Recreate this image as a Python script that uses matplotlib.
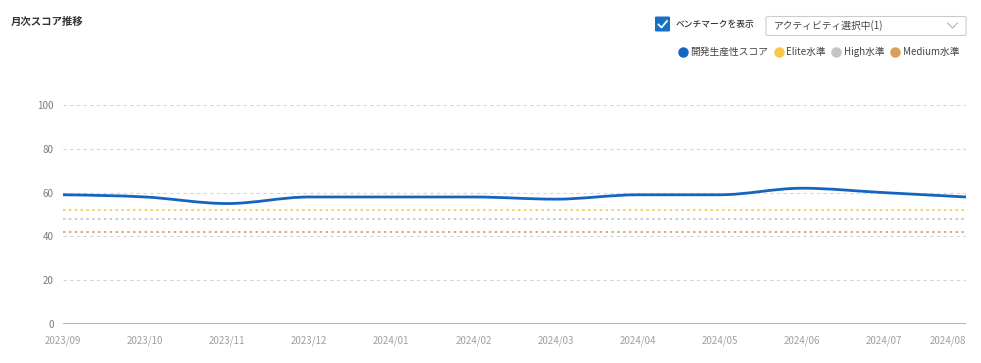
import numpy as np
import matplotlib.pyplot as plt
from matplotlib.path import Path
from matplotlib.patches import PathPatch, FancyBboxPatch
from matplotlib.lines import Line2D

plt.rcParams['font.family'] = ['Noto Sans CJK JP', 'DejaVu Sans']

months = ['2023/09', '2023/10', '2023/11', '2023/12', '2024/01', '2024/02',
          '2024/03', '2024/04', '2024/05', '2024/06', '2024/07', '2024/08']
score = [59, 58, 55, 58, 58, 58, 57, 59, 59, 62, 60, 58]
elite_level = 52
high_level = 48
medium_level = 42

blue = '#1565C0'
yellow = '#F5C945'
gray = '#C4C4C4'
orange = '#D9A055'


def monotone_path(x, y):
    # d3 curveMonotoneX as cubic bezier segments
    x = np.asarray(x, float)
    y = np.asarray(y, float)
    n = len(x)
    h = np.diff(x)
    s = np.diff(y) / h
    t = np.zeros(n)
    for i in range(1, n - 1):
        p = (s[i - 1] * h[i] + s[i] * h[i - 1]) / (h[i - 1] + h[i])
        t[i] = (np.sign(s[i - 1]) + np.sign(s[i])) * min(abs(s[i - 1]), abs(s[i]), 0.5 * abs(p))
    t[0] = (3 * s[0] - t[1]) / 2
    t[-1] = (3 * s[-1] - t[-2]) / 2
    verts = [(x[0], y[0])]
    codes = [Path.MOVETO]
    for i in range(n - 1):
        d = h[i] / 3
        verts += [(x[i] + d, y[i] + d * t[i]), (x[i + 1] - d, y[i + 1] - d * t[i + 1]), (x[i + 1], y[i + 1])]
        codes += [Path.CURVE4] * 3
    return Path(verts, codes)


fig = plt.figure(figsize=(9.81, 3.63), dpi=100)
ax = fig.add_axes([63 / 981, 39 / 363, 903 / 981, 219 / 363])

xs = np.arange(len(months))
ax.set_xlim(0, len(months) - 1)
ax.set_ylim(0, 100)

for v in [20, 40, 60, 80, 100]:
    ax.axhline(v, color='#D5D5D5', lw=0.8, ls=(0, (3, 3)), zorder=1)
ax.axhline(0, color='#A8A8A8', lw=1.2, zorder=2)

ax.axhline(elite_level, color=yellow, lw=1.2, ls=(0, (1.5, 2)), zorder=3)
ax.axhline(high_level, color=gray, lw=1.2, ls=(0, (1.5, 2)), zorder=3)
ax.axhline(medium_level, color=orange, lw=1.2, ls=(0, (1.5, 2)), zorder=3)

ax.add_patch(PathPatch(monotone_path(xs, score), facecolor='none', edgecolor=blue, lw=2.0, zorder=5))

for sp in ax.spines.values():
    sp.set_visible(False)
ax.set_yticks([0, 20, 40, 60, 80, 100])
ax.set_xticks(xs)
ax.set_xticklabels(months)
ax.tick_params(axis='both', length=0, labelsize=7)
ax.tick_params(axis='y', pad=6.5, colors='#7A7A7A')
ax.tick_params(axis='x', pad=8.5, colors='#A0A0A0')
labels = ax.get_xticklabels()
labels[-1].set_horizontalalignment('right')
labels[-1].set_x(len(months) - 1)

fig.text(11 / 981, 1 - 22 / 363, '月次スコア推移', fontsize=7.5, fontweight='bold',
         color='#333333', va='center', ha='left')

# checkbox
fig.add_artist(FancyBboxPatch((655 / 981, 1 - 31.5 / 363), 15 / 981, 15 / 363,
                              boxstyle='round,pad=0,rounding_size=0.002',
                              transform=fig.transFigure, facecolor='#1670C6', edgecolor='none'))
fig.add_artist(Line2D([658.5 / 981, 661.5 / 981, 667 / 981],
                      [1 - 24.5 / 363, 1 - 27.5 / 363, 1 - 21 / 363],
                      transform=fig.transFigure, color='white', lw=1.3))
fig.text(676 / 981, 1 - 24.5 / 363, 'ベンチマークを表示', fontsize=6.3, color='#333333',
         va='center', ha='left', fontweight='medium')

# dropdown
fig.add_artist(FancyBboxPatch((766 / 981, 1 - 35.5 / 363), 200 / 981, 19 / 363,
                              boxstyle='round,pad=0,rounding_size=0.003',
                              transform=fig.transFigure, facecolor='white',
                              edgecolor='#CCCCCC', lw=0.8))
fig.text(774 / 981, 1 - 25.5 / 363, 'アクティビティ選択中(1)', fontsize=7, color='#444444',
         va='center', ha='left')
fig.add_artist(Line2D([947.5 / 981, 952.5 / 981, 957.5 / 981],
                      [1 - 23 / 363, 1 - 28 / 363, 1 - 23 / 363],
                      transform=fig.transFigure, color='#A8A8A8', lw=0.7))

handles = [Line2D([], [], marker='o', ls='none', color=c, markersize=6.5)
           for c in [blue, yellow, gray, orange]]
fig.legend(handles, ['開発生産性スコア', 'Elite水準', 'High水準', 'Medium水準'],
           loc='center right', bbox_to_anchor=(959 / 981, 1 - 52 / 363), ncol=4,
           frameon=False, fontsize=7, labelcolor='#444444', handletextpad=0.3,
           columnspacing=0.55, handlelength=1.0, borderpad=0, borderaxespad=0)

fig.savefig('out.png', dpi=100, facecolor='white')
plt.close(fig)
